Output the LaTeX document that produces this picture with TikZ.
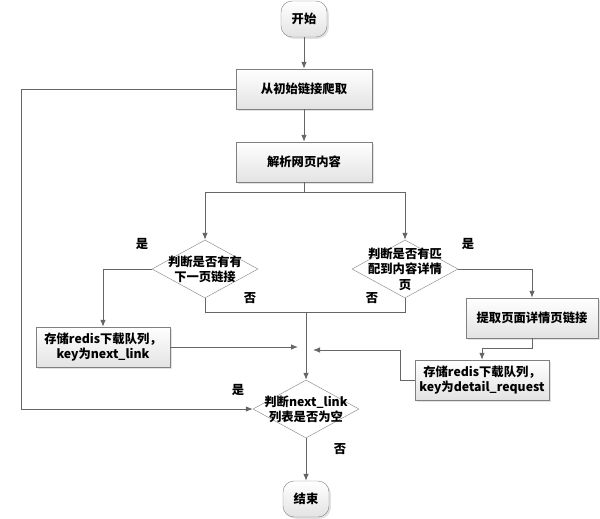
\documentclass[tikz,border=0pt]{standalone}
\usepackage{fontspec}
\setmainfont{Noto Sans CJK SC}
\usepackage{tikz}
\usetikzlibrary{arrows.meta, shapes.geometric, shadows}
\definecolor{linegray}{HTML}{666666}
\definecolor{boxgray}{HTML}{808080}
\tikzset{
>={Latex[length=7pt, width=5.5pt]}, % small filled arrow heads
every node/.style={font=\fontsize{12.3}{15}\selectfont\bfseries}, % bold text everywhere
flow/.style={draw=linegray, line width=0.8pt}, % the connectors
process/.style={draw=boxgray, top color=white, bottom color=gray!22, minimum width=136pt, minimum height=40pt, align=center, drop shadow={shadow xshift=1.8pt, shadow yshift=-1.8pt, fill=gray!45}}, % the boxes
terminal/.style={process, rounded corners=11pt, minimum width=46pt, minimum height=36pt}, % start and end
decision/.style={diamond, draw=boxgray, fill=white, inner sep=0pt, minimum width=106pt, minimum height=58pt}, % the diamonds
answer/.style={inner sep=0pt}, % yes / no labels
}
\begin{document}
\begin{tikzpicture}[x=1pt, y=-1pt]
\useasboundingbox (0,0) rectangle (600,519);
\node[terminal] (start) at (304,19) {开始};
\node[process] (crawl) at (304,89) {从初始链接爬取};
\node[process] (parse) at (304,162) {解析网页内容};
\node[decision, label={[align=center, inner sep=0pt]center:判断是否有有\\下一页链接}] (hasnext) at (205,269) {};
\node[decision, label={[align=center, inner sep=0pt, font=\fontsize{12.3}{15.5}\selectfont\bfseries]center:判断是否有匹\\配到内容详情\\页}] (hasdetail) at (405,269) {};
\node[process, minimum width=134pt] (savenext) at (103,347) {存储redis下载队列，\\key为next\_link};
\node[process, minimum width=132pt] (extract) at (532,318) {提取页面详情页链接};
\node[process, minimum width=134pt] (savedetail) at (482,380) {存储redis下载队列，\\key为detail\_request};
\node[decision, label={[align=center, inner sep=0pt]center:判断next\_link\\列表是否为空}] (isempty) at (306,409) {};
\node[terminal] (stop) at (306,499) {结束};
\node[answer] (yes1) at (142,244) {是};
\node[answer] (yes2) at (468,244) {是};
\node[answer] (yes3) at (238,390) {是};
\node[answer] (no1) at (250,298) {否};
\node[answer] (no2) at (372,298) {否};
\node[answer] (no3) at (340,449) {否};
\coordinate (split) at (304,192);
\coordinate (merge) at (306,312);
\coordinate (loop) at (21,89);
\coordinate (innext) at (298,347);
\coordinate (indetail) at (313,350);
\draw[flow, ->] (start) -- (crawl);
\draw[flow, ->] (crawl) -- (parse);
\draw[flow] (parse) -- (split);
\draw[flow, ->] (split) -| (hasnext.north);
\draw[flow, ->] (split) -| (hasdetail.north);
\draw[flow, ->] (hasnext.west) -| (savenext.north);
\draw[flow, ->] (hasdetail.east) -| (extract.north);
\draw[flow, ->] (extract.south) -- ++(0,10) -| (savedetail.north);
\draw[flow] (hasnext.south) |- (merge);
\draw[flow] (hasdetail.south) |- (merge);
\draw[flow, ->] (merge) -- (isempty.north);
\draw[flow, ->] (savenext.east) -- (innext);
\draw[flow, ->] (savedetail.west) -- ++(-14,0) |- (indetail);
\draw[flow, ->] (crawl.west) -- (loop) |- (isempty.west);
\draw[flow, ->] (isempty.south) -- (stop);
\end{tikzpicture}
\end{document}
